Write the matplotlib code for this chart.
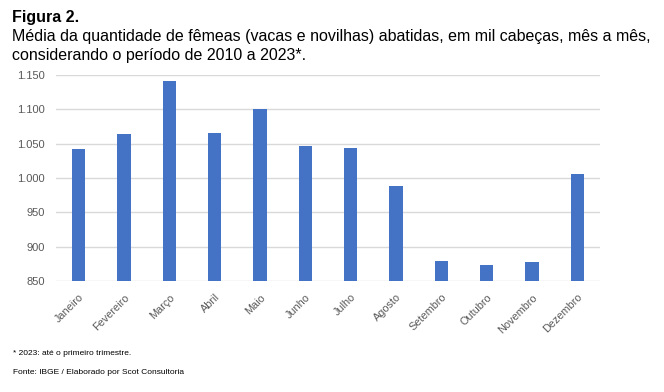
import matplotlib
matplotlib.use('Agg')
import matplotlib.pyplot as plt
import numpy as np

plt.rcParams['font.family'] = ['Liberation Sans', 'DejaVu Sans']

meses = ['Janeiro', 'Fevereiro', 'Março', 'Abril', 'Maio', 'Junho', 'Julho',
         'Agosto', 'Setembro', 'Outubro', 'Novembro', 'Dezembro']
femeas = [1042, 1064, 1141, 1065, 1100, 1047, 1044, 988, 879, 873, 878, 1006]
yticks = [850, 900, 950, 1000, 1050, 1100, 1150]
ylabels = ['850', '900', '950', '1.000', '1.050', '1.100', '1.150']

fig = plt.figure(figsize=(6.64, 3.92), dpi=100)
ax = fig.add_axes([0.0843, 0.283, 0.8193, 0.5257])

x = np.arange(len(meses))
ax.bar(x, femeas, width=0.3, color='#4472C4', zorder=3)
ax.set_xlim(-0.5, len(meses) - 0.5)
ax.set_ylim(850, 1150)
ax.set_yticks(yticks)
ax.set_yticklabels(ylabels)
ax.set_xticks(x)
ax.set_xticklabels(meses, rotation=45, ha='right', rotation_mode='anchor')
ax.tick_params(axis='both', length=0, colors='#595959', labelsize=8)
ax.tick_params(axis='y', pad=8)
ax.tick_params(axis='x', pad=8, labelsize=7.8)
ax.grid(axis='y', color='#d9d9d9', linewidth=1, zorder=0)
for s in ax.spines.values():
    s.set_visible(False)

fig.text(0.018, 0.955, 'Figura 2.', fontsize=11.5, fontweight='bold', va='center')
fig.text(0.018, 0.906, 'Média da quantidade de fêmeas (vacas e novilhas) abatidas, em mil cabeças, mês a mês,',
         fontsize=11.5, va='center')
fig.text(0.018, 0.859, 'considerando o período de 2010 a 2023*.', fontsize=11.5, va='center')
fig.text(0.019, 0.097, '* 2023: até o primeiro trimestre.', fontsize=6.0, va='center')
fig.text(0.019, 0.051, 'Fonte: IBGE / Elaborado por Scot Consultoria', fontsize=6.0, va='center')

fig.savefig('out.png', dpi=100)
